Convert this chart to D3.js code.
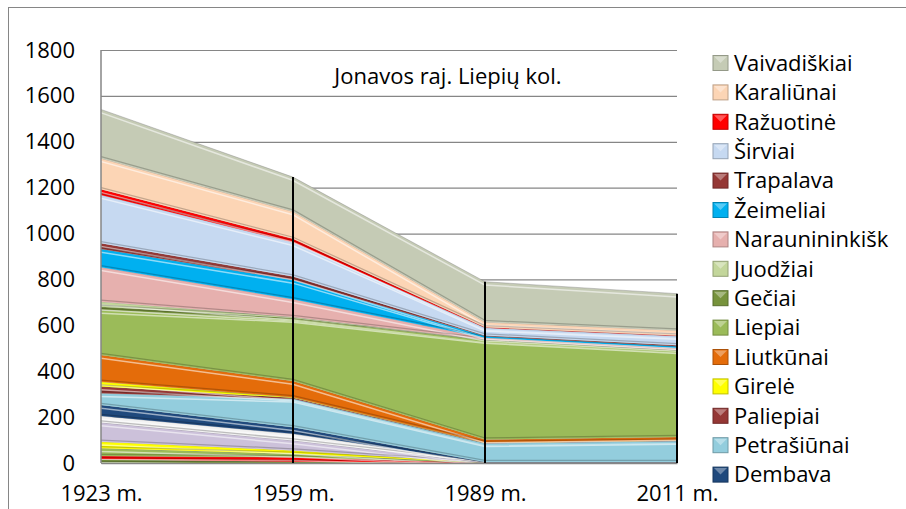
<!DOCTYPE html>
<html>
<head>
<meta charset="utf-8">
<script src="https://cdn.jsdelivr.net/npm/d3@7"></script>
<style>
  body { margin: 0; background: #fff; }
  text { font-family: "Open Sans", sans-serif; fill: #000; }
</style>
</head>
<body>
<div class="chart"></div>
<script>
// categories (years)
var years = ["1923 m.", "1959 m.", "1989 m.", "2011 m."];
var yTicks = [0, 200, 400, 600, 800, 1000, 1200, 1400, 1600, 1800];
var title = "Jonavos raj. Liepių kol.";

// series values, bottom of the stack first
var s1 = [16, 5, 1, 1];
var s2 = [14, 20, 0, 0];
var s3 = [34, 15, 0, 0];
var s4 = [29, 15, 0, 0];
var s5 = [83, 43, 1, 1];
var s6 = [29, 29, 1, 1];
var dembava = [48, 29, 1, 1];
var petrasiunai = [51, 124, 82, 92];
var paliepiai = [29, 4, 1, 1];
var girele = [21, 3, 1, 1];
var liutkunai = [117, 70, 14, 15];
var liepiai = [196, 271, 434, 378];
var geciai = [14, 4, 1, 1];
var juodziai = [22, 4, 1, 1];
var naraunininkisk = [150, 78, 8, 8];
var zeimeliai = [80, 84, 7, 8];
var trapalava = [25, 15, 3, 4];
var sirviai = [210, 149, 33, 40];
var razuotine = [25, 15, 3, 3];
var karaliunai = [135, 119, 22, 22];
var vaivadiskiai = [213, 150, 176, 160];

var seriesNames = ["s1", "s2", "s3", "s4", "s5", "s6", "Dembava", "Petrašiūnai", "Paliepiai",
  "Girelė", "Liutkūnai", "Liepiai", "Gečiai", "Juodžiai", "Naraunininkišk", "Žeimeliai",
  "Trapalava", "Širviai", "Ražuotinė", "Karaliūnai", "Vaivadiškiai"];
var seriesValues = [s1, s2, s3, s4, s5, s6, dembava, petrasiunai, paliepiai, girele, liutkunai,
  liepiai, geciai, juodziai, naraunininkisk, zeimeliai, trapalava, sirviai, razuotine,
  karaliunai, vaivadiskiai];
var seriesColors = ["#77933C", "#FF0000", "#9BBB59", "#FFFF00", "#CCC1DA", "#F2F2F2", "#1F497D",
  "#93CDDD", "#953735", "#FFFF00", "#E46C0A", "#9BBB59", "#77933C", "#C3D69B", "#E6B0AE",
  "#00B0F0", "#953735", "#C6D9F1", "#FF0000", "#FCD5B5", "#C5CBB5"];

// legend only lists the top 15 (it is cut off in the original)
var legendNames = ["Vaivadiškiai", "Karaliūnai", "Ražuotinė", "Širviai", "Trapalava", "Žeimeliai",
  "Naraunininkišk", "Juodžiai", "Gečiai", "Liepiai", "Liutkūnai", "Girelė", "Paliepiai",
  "Petrašiūnai", "Dembava"];

var svgWidth = 906;
var svgHeight = 509;
var margin = { top: 50, right: 229, bottom: 46, left: 101 };
var chartWidth = svgWidth - margin.left - margin.right;
var chartHeight = svgHeight - margin.top - margin.bottom;

var svg = d3.select(".chart")
  .append("svg")
  .attr("width", svgWidth)
  .attr("height", svgHeight);

// outer chart border
svg.append("rect")
  .attr("x", 8.5).attr("y", 7.5)
  .attr("width", 1000).attr("height", 1000)
  .attr("fill", "none")
  .attr("stroke", "#868686");

var chartGroup = svg.append("g")
  .attr("transform", `translate(${margin.left}, ${margin.top})`);

// build the table for d3.stack
var table = years.map(function(yr, i) {
  var row = { year: yr };
  seriesNames.forEach(function(name, j) { row[name] = seriesValues[j][i]; });
  return row;
});

var colorScale = d3.scaleOrdinal().domain(seriesNames).range(seriesColors);

var xScale = d3.scalePoint().domain(years).range([0, chartWidth]);
var yScale = d3.scaleLinear().domain([0, 1800]).range([chartHeight, 0]);

// gridlines + y labels
var leftAxis = d3.axisLeft(yScale)
  .tickValues(yTicks)
  .tickSize(-chartWidth)
  .tickPadding(26)
  .tickFormat(d3.format("d"));

var yAxis = chartGroup.append("g").call(leftAxis);
yAxis.select(".domain").remove();
yAxis.selectAll(".tick line").attr("stroke", "#868686").attr("stroke-width", 1.2);
yAxis.selectAll(".tick text").attr("font-size", 22).attr("font-family", "Open Sans");

// title
chartGroup.append("text")
  .attr("x", 347)
  .attr("y", 34)
  .attr("text-anchor", "middle")
  .attr("font-size", 22)
  .text(title);

var stack = d3.stack().keys(seriesNames);
var layers = stack(table);

var area = d3.area()
  .x(d => xScale(d.data.year))
  .y0(d => yScale(d[0]))
  .y1(d => yScale(d[1]));

var topLine = d3.line()
  .x(d => xScale(d.data.year))
  .y(d => yScale(d[1]));

var bottomLine = d3.line()
  .x(d => xScale(d.data.year))
  .y(d => yScale(d[0]));

var defs = svg.append("defs");
layers.forEach(function(layer, i) {
  defs.append("clipPath").attr("id", "clip" + i)
    .append("path").attr("d", area(layer));
});

var layerGroups = chartGroup.selectAll(".layer")
  .data(layers)
  .enter()
  .append("g")
  .attr("class", "layer");

layerGroups.append("path")
  .attr("d", area)
  .attr("fill", d => colorScale(d.key));

// bevel look: light edge on top, dark edge on the bottom
layerGroups.append("path")
  .attr("clip-path", (d, i) => `url(#clip${i})`)
  .attr("d", topLine)
  .attr("transform", "translate(0,2.5)")
  .attr("fill", "none")
  .attr("stroke", "#fff")
  .attr("stroke-opacity", 0.55)
  .attr("stroke-width", 3);

layerGroups.append("path")
  .attr("clip-path", (d, i) => `url(#clip${i})`)
  .attr("d", bottomLine)
  .attr("transform", "translate(0,-1)")
  .attr("fill", "none")
  .attr("stroke", "#000")
  .attr("stroke-opacity", 0.22)
  .attr("stroke-width", 2.5);

layerGroups.append("path")
  .attr("d", topLine)
  .attr("fill", "none")
  .attr("stroke", "#7f7f7f")
  .attr("stroke-opacity", 0.5)
  .attr("stroke-width", 0.8);

// axis lines
chartGroup.append("line")
  .attr("x1", 0).attr("x2", 0)
  .attr("y1", 0).attr("y2", chartHeight)
  .attr("stroke", "#868686").attr("stroke-width", 1.5);

var bottomAxis = d3.axisBottom(xScale).tickSize(0).tickPadding(22);
var xAxis = chartGroup.append("g")
  .attr("transform", `translate(0, ${chartHeight})`)
  .call(bottomAxis);
xAxis.select(".domain").attr("stroke", "#868686").attr("stroke-width", 1.5);
xAxis.selectAll(".tick text").attr("font-size", 22).attr("font-family", "Open Sans");

// drop lines
var topLayer = layers[layers.length - 1];
chartGroup.selectAll(".drop")
  .data(topLayer.slice(1))
  .enter()
  .append("line")
  .attr("class", "drop")
  .attr("x1", d => xScale(d.data.year))
  .attr("x2", d => xScale(d.data.year))
  .attr("y1", d => yScale(d[1]))
  .attr("y2", yScale(0))
  .attr("stroke", "#000")
  .attr("stroke-width", 2);

// legend
var legend = svg.append("g").attr("transform", "translate(713, 63)");
var legendItems = legend.selectAll(".legend-item")
  .data(legendNames)
  .enter()
  .append("g")
  .attr("class", "legend-item")
  .attr("transform", (d, i) => `translate(0, ${i * 29.4})`);

legendItems.append("rect")
  .attr("x", 0).attr("y", -7.5)
  .attr("width", 15).attr("height", 15)
  .attr("fill", d => colorScale(d))
  .attr("stroke", d => d3.color(colorScale(d)).darker(0.8))
  .attr("stroke-width", 1);

legendItems.append("path")
  .attr("d", "M1,-6.5 L14,-6.5 L7.5,0 Z")
  .attr("fill", "#fff")
  .attr("fill-opacity", 0.35);

legendItems.append("text")
  .attr("x", 21)
  .attr("y", 0)
  .attr("dy", "0.35em")
  .attr("font-size", 22)
  .text(d => d);
</script>
</body>
</html>
